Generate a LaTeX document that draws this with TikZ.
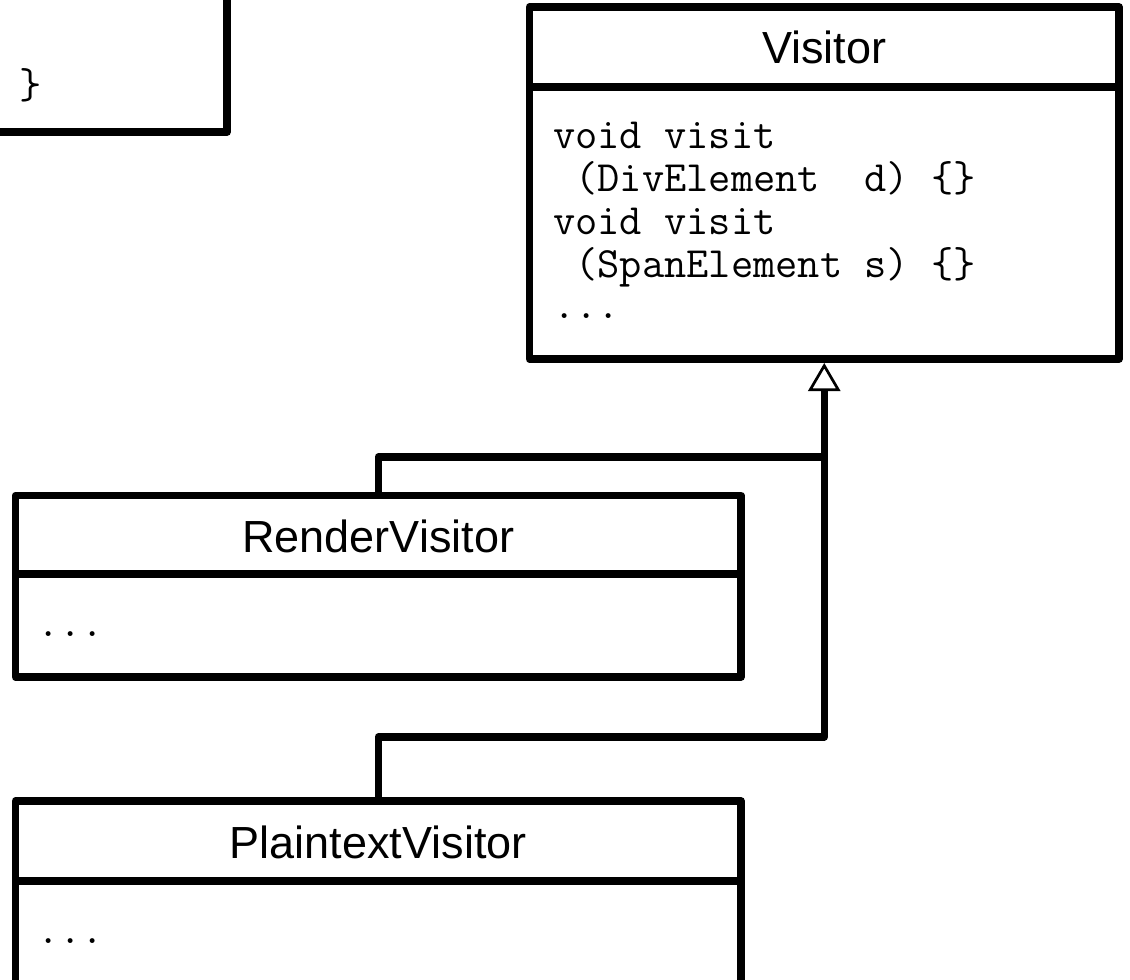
\documentclass[tikz,border=0pt]{standalone}
\usepackage{fontspec}
\setmainfont{Liberation Sans}
\usetikzlibrary{arrows.meta}
\begin{document}
\begin{tikzpicture}[x=1pt,y=-1pt,
  box/.style={draw, line width=7.5pt, line join=round, rectangle, inner sep=0pt},
  divider/.style={line width=7.5pt},
  title/.style={font=\fontsize{45}{54}\selectfont, inner sep=0pt, anchor=base},
  code/.style={font=\fontsize{43.2}{44}\ttfamily, inner sep=0pt, anchor=base west},
  link/.style={line width=7.5pt, line join=round},
  gen/.style={link, -{Triangle[open, length=28pt, width=32pt, line width=2.7pt]}}
]
\clip (0,0) rectangle (1130,980);
\fill[white] (0,0) rectangle (1130,980);
% class boxes
\node[box, minimum width=527pt, minimum height=332pt] (code0) at (-36.5,-34) {};
\node[box, minimum width=589.5pt, minimum height=352pt] (visitor) at (824.25,183) {};
\node[box, minimum width=725.5pt, minimum height=181.5pt] (render) at (378.25,586.25) {};
\node[box, minimum width=725.5pt, minimum height=299pt] (plain) at (378.25,950.5) {};
% dividers
\coordinate (vdl) at (529.5,87);  \coordinate (vdr) at (1119,87);
\coordinate (rdl) at (15.5,574);  \coordinate (rdr) at (741,574);
\coordinate (pdl) at (15.5,881);  \coordinate (pdr) at (741,881);
\draw[divider] (vdl) -- (vdr);
\draw[divider] (rdl) -- (rdr);
\draw[divider] (pdl) -- (pdr);
% texts
\node[code] (c0) at (19,98) {\}};
\node[title] (vt) at (824.25,63) {Visitor};
\node[code] (v1) at (553,148) {void visit};
\node[code] (v2) at (553,191) {~(DivElement~~d)~\{\}};
\node[code] (v3) at (553,234) {void visit};
\node[code] (v4) at (553,277) {~(SpanElement~s)~\{\}};
\node[code] (v5) at (553,318) {...};
\node[title] (rt) at (378.25,552) {RenderVisitor};
\node[code] (r1) at (37,636) {...};
\node[title] (pt) at (378.25,858) {PlaintextVisitor};
\node[code] (p1) at (37,943) {...};
% connectors
\coordinate (j1) at (824.25,457);
\coordinate (j2) at (824.25,737);
\coordinate (vtip) at (824.25,363);
\draw[gen] (plain.north) |- (j2) -- (vtip);
\draw[link] (render.north) |- (j1);
\end{tikzpicture}
\end{document}
